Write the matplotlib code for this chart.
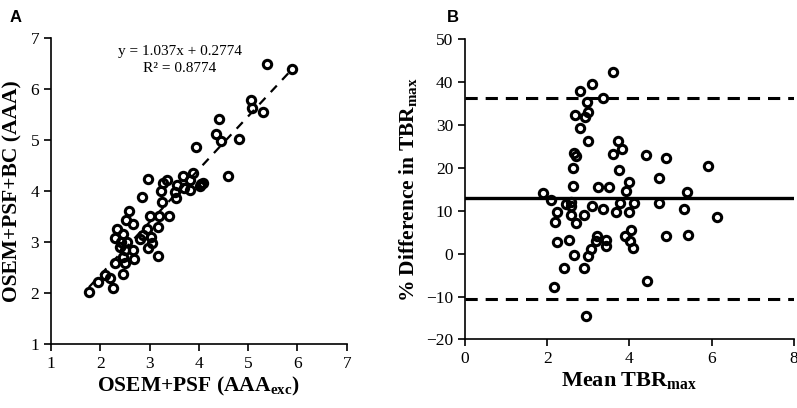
import matplotlib
matplotlib.use('Agg')
from matplotlib import pyplot as plt
import numpy as np

# fonts: Times-like serif for everything, subscripts through mathtext
plt.rcParams['font.family'] = 'Liberation Serif'
plt.rcParams['font.size'] = 11
plt.rcParams['mathtext.fontset'] = 'custom'
plt.rcParams['mathtext.rm'] = 'Liberation Serif'
plt.rcParams['mathtext.bf'] = 'Liberation Serif:bold'

# ----- panel A data: OSEM+PSF (x) vs OSEM+PSF+BC (y) -----
psf_x = [5.38, 5.89, 5.05, 5.08, 5.31, 4.41, 4.35, 4.45, 4.81, 3.94, 4.60, 2.97,
         3.88, 3.68, 3.35, 3.28, 4.09, 4.02, 3.82, 3.55, 3.24, 3.52, 3.82, 2.85,
         3.53, 3.26, 2.58, 3.40, 3.20, 3.01, 2.52, 2.66, 3.18, 2.94, 2.33, 2.47,
         2.30, 2.80, 3.03, 2.87, 2.40, 2.50, 2.97, 3.04, 2.66, 2.47, 2.68, 3.18,
         2.30, 2.50, 2.47, 2.10, 2.20, 1.96, 2.25, 1.77, 2.43, 2.55, 3.70, 4.05]
psf_bc_y = [6.48, 6.39, 5.78, 5.62, 5.54, 5.41, 5.12, 4.97, 5.02, 4.86, 4.30, 4.24,
            4.35, 4.30, 4.22, 4.15, 4.16, 4.10, 4.22, 4.12, 3.99, 3.97, 4.01, 3.89,
            3.86, 3.78, 3.61, 3.51, 3.51, 3.50, 3.43, 3.36, 3.29, 3.26, 3.25, 3.16,
            3.08, 3.06, 3.09, 3.14, 2.91, 2.84, 2.88, 2.97, 2.84, 2.71, 2.67, 2.73,
            2.58, 2.58, 2.37, 2.35, 2.29, 2.22, 2.09, 2.01, 3.00, 3.00, 4.05, 4.13]
slope, intercept = 1.037, 0.2774
r2 = 0.8774

# ----- panel B data: Bland-Altman -----
mean_tbr = [3.59, 3.08, 2.79, 3.36, 2.97, 3.00, 2.68, 2.92, 2.79, 2.98, 3.71, 3.81,
            2.65, 2.70, 3.60, 4.39, 4.90, 2.63, 3.75, 5.91, 4.71, 3.98, 2.63, 3.24,
            3.51, 3.92, 5.40, 1.89, 2.08, 2.45, 2.58, 2.58, 3.09, 3.36, 3.77, 4.11,
            4.71, 2.23, 2.58, 2.90, 3.67, 3.99, 5.33, 6.12, 2.19, 2.71, 3.90, 4.04,
            4.90, 5.42, 2.53, 2.24, 3.22, 3.18, 3.44, 3.44, 4.01, 4.09, 3.06, 2.98,
            2.66, 2.40, 2.90, 4.43, 2.16, 2.94]
pct_diff = [42.3, 39.6, 37.9, 36.4, 35.4, 33.1, 32.3, 31.8, 29.3, 26.2, 26.2, 24.5,
            23.5, 22.8, 23.2, 23.0, 22.2, 20.0, 19.4, 20.4, 17.6, 16.6, 15.8, 15.5,
            15.5, 14.6, 14.3, 14.2, 12.5, 11.6, 12.1, 11.2, 11.0, 10.3, 11.7, 11.8,
            11.8, 9.7, 8.9, 9.0, 9.6, 9.8, 10.5, 8.6, 7.3, 7.2, 4.2, 5.5,
            4.1, 4.4, 3.3, 2.7, 4.1, 3.0, 3.3, 1.9, 2.9, 1.4, 1.0, -0.5,
            -0.3, -3.3, -3.3, -6.4, -7.8, -14.5]
bias = 12.9
loa_upper = 36.4
loa_lower = -10.6

fig = plt.figure(figsize=(7.97, 4.08), dpi=100)
ax1 = fig.add_axes([0.064, 0.157, 0.371, 0.750])
ax2 = fig.add_axes([0.5834, 0.168, 0.4128, 0.736])

marker_kw = dict(linestyle='none', marker='o', markersize=6.0, markerfacecolor='none',
                 markeredgecolor='black', markeredgewidth=2.2)

# panel A
ax1.plot(psf_x, psf_bc_y, **marker_kw, zorder=3)
xfit = np.array([min(psf_x), max(psf_x)])
ax1.plot(xfit, slope * xfit + intercept, color='black', lw=1.6, dashes=(4, 3.5), zorder=2)
ax1.text(3.62, 6.73, f'y = {slope}x + {intercept}', ha='center', va='center', fontsize=11)
ax1.text(3.62, 6.40, f'R² = {r2}', ha='center', va='center', fontsize=11)
ax1.set_xlim(1, 7)
ax1.set_ylim(1, 7)
ax1.set_xticks(range(1, 8))
ax1.set_yticks(range(1, 8))
ax1.set_xlabel('OSEM+PSF (AAA$_{\\mathbf{exc}}$)', fontsize=15.5, fontweight='bold', labelpad=2)
ax1.set_ylabel('OSEM+PSF+BC (AAA)', fontsize=15.5, fontweight='bold', labelpad=6)

# panel B
ax2.plot(mean_tbr, pct_diff, **marker_kw, zorder=3)
ax2.axhline(bias, color='black', lw=2.4, zorder=2)
ax2.axhline(loa_upper, color='black', lw=2.2, dashes=(4, 2.6), zorder=2)
ax2.axhline(loa_lower, color='black', lw=2.2, dashes=(4, 2.6), zorder=2)
ax2.set_xlim(0, 8)
ax2.set_ylim(-20, 50)
ax2.set_xticks(range(0, 9, 2))
ax2.set_yticks(range(-20, 51, 10))
ax2.set_xlabel('Mean TBR$_{\\mathbf{max}}$', fontsize=16, fontweight='bold', labelpad=2)
ax2.set_ylabel('% Difference in TBR$_{\\mathbf{max}}$', fontsize=15.5, fontweight='bold', labelpad=4)

for ax in (ax1, ax2):
    for side in ('top', 'right'):
        ax.spines[side].set_visible(False)
    for side in ('left', 'bottom'):
        ax.spines[side].set_linewidth(1.2)
    ax.tick_params(direction='out', length=5, width=1.2, labelsize=12.5)

fig.text(0.012, 0.975, 'A', fontsize=12, fontweight='bold', family='Liberation Sans', va='top')
fig.text(0.561, 0.975, 'B', fontsize=12, fontweight='bold', family='Liberation Sans', va='top')

plt.savefig('out.png', dpi=100)
plt.close()
